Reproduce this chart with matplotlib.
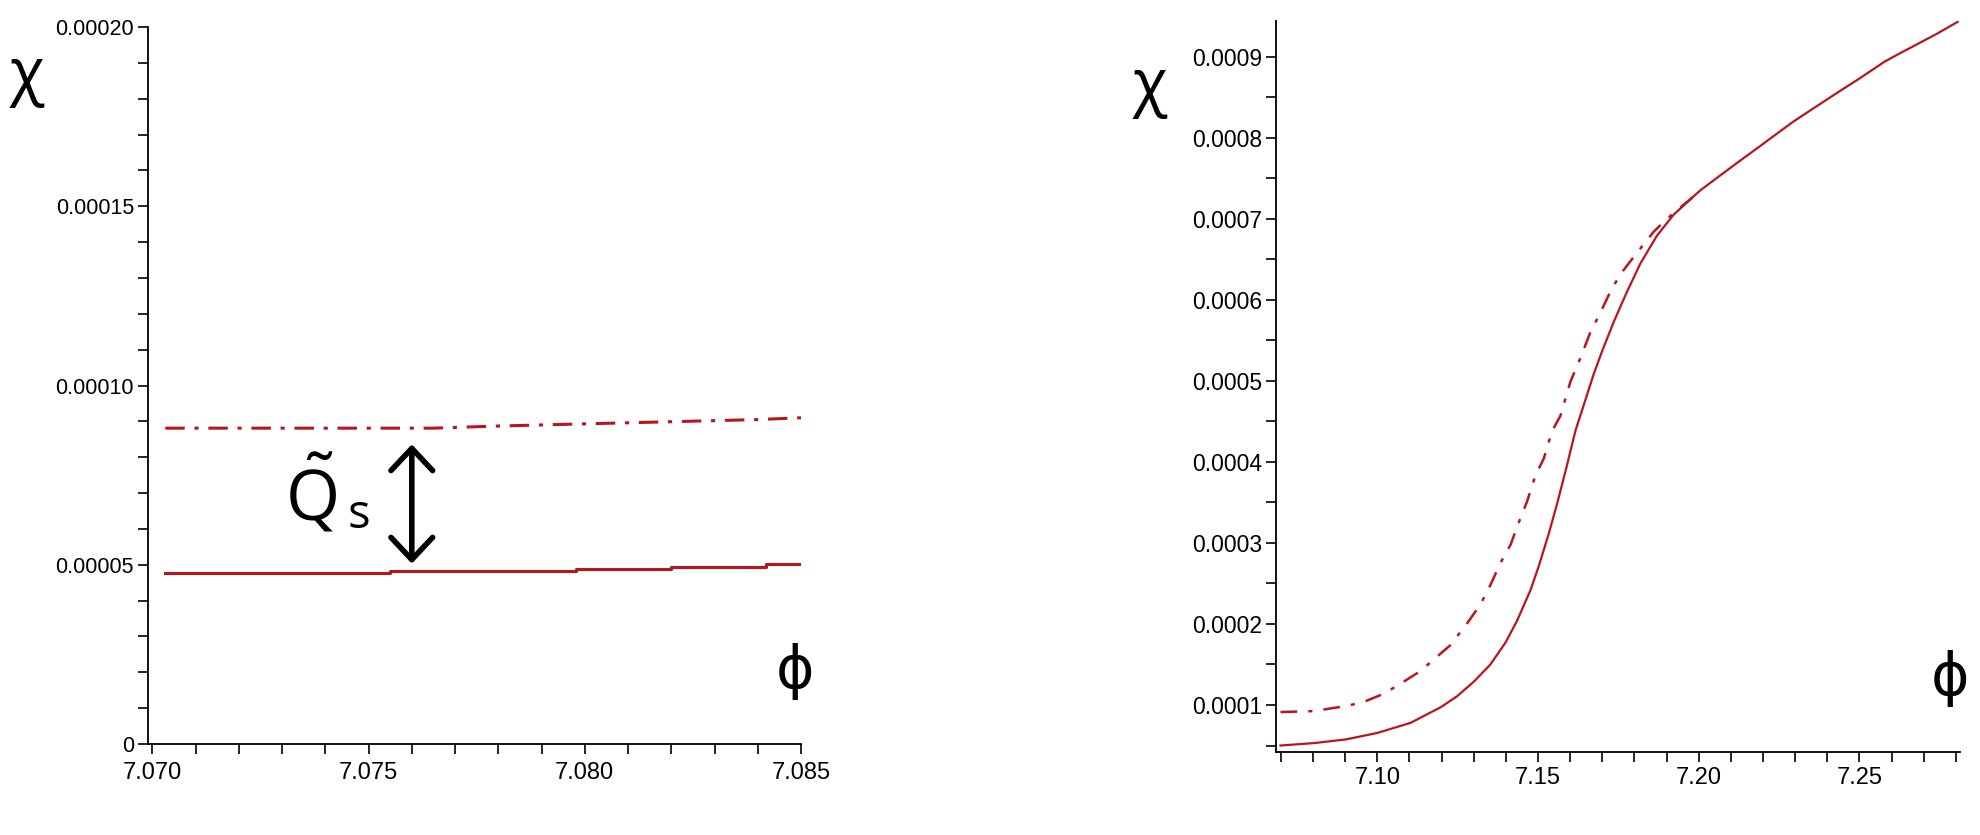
import matplotlib.pyplot as plt
from matplotlib.ticker import FixedLocator, MultipleLocator

# left panel: chi vs phi, small phi range
phi_l_solid = [7.0703, 7.0755, 7.0798, 7.0820, 7.0842, 7.0850]
chi_l_solid = [0.0000477, 0.0000483, 0.0000488, 0.0000493, 0.0000501, 0.0000501]
phi_l_dash = [7.0703, 7.0765, 7.0780, 7.0800, 7.0820, 7.0840, 7.0850]
chi_l_dash = [0.0000881, 0.0000881, 0.0000887, 0.0000893, 0.0000899, 0.0000905, 0.0000910]

# right panel: chi vs phi, wide phi range
phi_r_solid = [7.0699, 7.0803, 7.0902, 7.1000, 7.1104, 7.1199, 7.1249, 7.1301, 7.1352,
               7.1399, 7.1435, 7.1477, 7.1503, 7.1534, 7.1560, 7.1591, 7.1617, 7.1648,
               7.1674, 7.1699, 7.1736, 7.1777, 7.1819, 7.1870, 7.1922, 7.1974, 7.2005,
               7.2062, 7.2130, 7.2182, 7.2240, 7.2295, 7.2360, 7.2437, 7.2500, 7.2579,
               7.2630, 7.2678, 7.2740, 7.2806]
chi_r_solid = [0.0000500, 0.0000530, 0.0000575, 0.0000655, 0.0000780, 0.0000976, 0.000111,
               0.000129, 0.000150, 0.000177, 0.000204, 0.000242, 0.000272, 0.000312,
               0.000349, 0.000397, 0.000439, 0.000477, 0.000509, 0.000536, 0.000573,
               0.000610, 0.000645, 0.000679, 0.000705, 0.000724, 0.000735, 0.000752,
               0.000772, 0.000787, 0.000804, 0.000820, 0.000837, 0.000857, 0.000873,
               0.000894, 0.000905, 0.000915, 0.000928, 0.000943]
phi_r_dash = [7.0699, 7.0803, 7.0907, 7.0959, 7.1021, 7.1083, 7.1135, 7.1181, 7.1228,
              7.1280, 7.1321, 7.1352, 7.1383, 7.1415, 7.1440, 7.1466, 7.1492, 7.1518,
              7.1544, 7.1570, 7.1601, 7.1632, 7.1663, 7.1694, 7.1731, 7.1767, 7.1808,
              7.1860, 7.1902, 7.1943, 7.1974, 7.2005]
chi_r_dash = [0.0000913, 0.0000925, 0.0000990, 0.000104, 0.000114, 0.000129, 0.000142,
              0.000158, 0.000174, 0.000201, 0.000224, 0.000248, 0.000275, 0.000298,
              0.000325, 0.000351, 0.000383, 0.000404, 0.000438, 0.000457, 0.000499,
              0.000528, 0.000560, 0.000584, 0.000615, 0.000637, 0.000658, 0.000684,
              0.000700, 0.000714, 0.000724, 0.000735]

left_xticks = [7.070, 7.075, 7.080, 7.085]
left_xlabels = ['7.070', '7.075', '7.080', '7.085']
left_yticks = [0, 0.00005, 0.00010, 0.00015, 0.00020]
left_ylabels = ['0', '0.00005', '0.00010', '0.00015', '0.00020']
right_xticks = [7.10, 7.15, 7.20, 7.25]
right_xlabels = ['7.10', '7.15', '7.20', '7.25']
right_yticks = [0.0001, 0.0002, 0.0003, 0.0004, 0.0005, 0.0006, 0.0007, 0.0008, 0.0009]
right_ylabels = ['0.0001', '0.0002', '0.0003', '0.0004', '0.0005',
                 '0.0006', '0.0007', '0.0008', '0.0009']

red = '#b8151f'
tick_font = ['Liberation Sans', 'DejaVu Sans']
big_font = ['Open Sans', 'DejaVu Sans']
plt.rcParams['lines.scale_dashes'] = False
plt.rcParams['mathtext.fontset'] = 'custom'
plt.rcParams['mathtext.rm'] = 'Open Sans'
plt.rcParams['mathtext.it'] = 'Open Sans'

W, H = 1981, 835
fig = plt.figure(figsize=(W / 100, H / 100), dpi=100)

def px_box(x0, y0, x1, y1):
    return [x0 / W, 1 - y1 / H, (x1 - x0) / W, (y1 - y0) / H]

def style(ax, xfs, yfs, xpad):
    for s in ['top', 'right']:
        ax.spines[s].set_visible(False)
    for s in ['left', 'bottom']:
        ax.spines[s].set_linewidth(1.3)
    ax.tick_params(which='both', direction='out', length=7, width=1.2)
    ax.tick_params(axis='x', labelsize=xfs, pad=xpad)
    ax.tick_params(axis='y', labelsize=yfs, pad=3)
    for lab in ax.get_xticklabels() + ax.get_yticklabels():
        lab.set_family(tick_font)

ax1 = fig.add_axes(px_box(148, 27, 801, 744))
ax1.plot(phi_l_solid, chi_l_solid, color=red, lw=2.2, drawstyle='steps-post')
ax1.plot(phi_l_dash, chi_l_dash, color=red, lw=2.2, dashes=(14, 7, 3, 7))
ax1.set_xlim(7.0699, 7.0850)
ax1.set_ylim(0, 0.0002)
ax1.xaxis.set_major_locator(FixedLocator(left_xticks))
ax1.set_xticklabels(left_xlabels)
ax1.xaxis.set_minor_locator(MultipleLocator(0.001))
ax1.yaxis.set_major_locator(FixedLocator(left_yticks))
ax1.set_yticklabels(left_ylabels)
ax1.yaxis.set_minor_locator(MultipleLocator(0.00001))
style(ax1, 17, 15.5, 6)

ax1.annotate('', xy=(7.0760, 0.0000836), xytext=(7.0760, 0.0000503),
             arrowprops=dict(arrowstyle='<->, head_length=1.6, head_width=1.5',
                             color='black', lw=4, shrinkA=0, shrinkB=0))

ax2 = fig.add_axes(px_box(1276, 21, 1960, 752))
ax2.plot(phi_r_solid, chi_r_solid, color=red, lw=1.6)
ax2.plot(phi_r_dash, chi_r_dash, color=red, lw=1.8, dashes=(12, 8, 3, 8))
ax2.set_xlim(7.0685, 7.2813)
ax2.set_ylim(0.000042, 0.000944)
ax2.xaxis.set_major_locator(FixedLocator(right_xticks))
ax2.set_xticklabels(right_xlabels)
ax2.xaxis.set_minor_locator(MultipleLocator(0.01))
ax2.yaxis.set_major_locator(FixedLocator(right_yticks))
ax2.set_yticklabels(right_ylabels)
ax2.yaxis.set_minor_locator(MultipleLocator(0.00005))
style(ax2, 17, 16.5, 4)

def ftext(x, y, s, fs):
    fig.text(x / W, 1 - y / H, s, fontsize=fs, family=big_font, ha='center', va='center')

ftext(27, 76, 'χ', 46)
ftext(1150, 87, 'χ', 46)
ftext(795, 673, 'ϕ', 42)
ftext(1950, 680, 'ϕ', 42)
ftext(311, 496, r'$\tilde{\mathrm{Q}}$', 50)
ftext(359, 515, 's', 34)

fig.savefig('out.png', dpi=100)
